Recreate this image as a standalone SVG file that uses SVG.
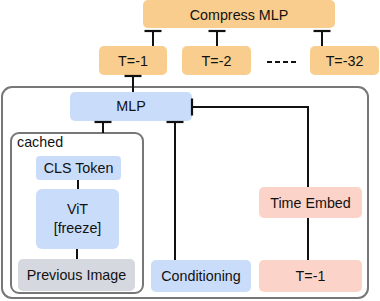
<svg xmlns="http://www.w3.org/2000/svg" width="380" height="301" viewBox="0 0 380 301">
<style>
text{font-family:"Liberation Sans",Arial,sans-serif;font-size:14.3px;fill:#111;text-anchor:middle;dominant-baseline:central}
.or{fill:#f9cd8d}
.bl{fill:#c9dcfa}
.pk{fill:#fcd3c8}
.gr{fill:#d6d8df}
.frame{fill:none;stroke:#777;stroke-width:2}
.c{fill:none;stroke:#111;stroke-width:2}
</style>
<defs>
<marker id="tee" markerUnits="userSpaceOnUse" markerWidth="4" markerHeight="20" viewBox="-2 -10 4 20" refX="0" refY="0" orient="auto">
<line x1="0" y1="-8.5" x2="0" y2="8.5" stroke="#111" stroke-width="2.2"/>
</marker>
</defs>
<rect class="frame" x="2" y="87" width="366" height="211" rx="10"/>
<g id="compress"><rect class="or" x="143" y="0" width="192" height="28" rx="5"/><text x="239" y="15">Compress MLP</text></g>
<g id="t1"><rect class="or" x="99" y="46" width="68" height="29" rx="5"/><text x="133" y="61">T=-1</text></g>
<g id="t2"><rect class="or" x="182" y="46" width="69" height="29" rx="5"/><text x="216.5" y="61">T=-2</text></g>
<g id="t32"><rect class="or" x="310" y="46" width="69" height="29" rx="5"/><text x="344.5" y="61">T=-32</text></g>
<g id="mlp"><rect class="bl" x="70" y="92" width="122" height="29" rx="5"/><text x="131" y="106">MLP</text></g>
<g id="cached"><rect class="frame" x="11" y="133" width="132" height="160" rx="8"/><text x="17" y="142" style="text-anchor:start">cached</text></g>
<g id="cls"><rect class="bl" x="36" y="156" width="85" height="24" rx="4"/><text x="78.5" y="168">CLS Token</text></g>
<g id="vit"><rect class="bl" x="36" y="189" width="83" height="60" rx="6"/><text x="77.5" y="209">ViT</text><text x="77.5" y="228">[freeze]</text></g>
<g id="prev"><rect class="gr" x="18" y="259" width="117" height="32" rx="5"/><text x="76.5" y="275">Previous Image</text></g>
<g id="cond"><rect class="bl" x="151" y="260" width="100" height="32" rx="5"/><text x="201" y="276">Conditioning</text></g>
<g id="time"><rect class="pk" x="259" y="187" width="103" height="31" rx="5"/><text x="310.5" y="202.5">Time Embed</text></g>
<g id="tpink"><rect class="pk" x="259" y="260" width="103" height="32" rx="5"/><text x="310.5" y="276">T=-1</text></g>
<g id="connectors">
<path class="c" d="M153 46V31" marker-end="url(#tee)"/>
<path class="c" d="M217 46V31" marker-end="url(#tee)"/>
<path class="c" d="M322 46V31" marker-end="url(#tee)"/>
<path class="c" d="M133 92V76" marker-end="url(#tee)"/>
<path class="c" d="M103 133V122" marker-end="url(#tee)"/>
<path class="c" d="M175 260V122" marker-end="url(#tee)"/>
<path class="c" d="M308 187V107H192" marker-end="url(#tee)"/>
<path class="c" d="M308 218V260"/>
<path class="c" d="M78 180V189"/>
<path class="c" d="M77 249V259"/>
<path class="c" d="M267 62H296" stroke-dasharray="5 3"/>
</g>
</svg>
